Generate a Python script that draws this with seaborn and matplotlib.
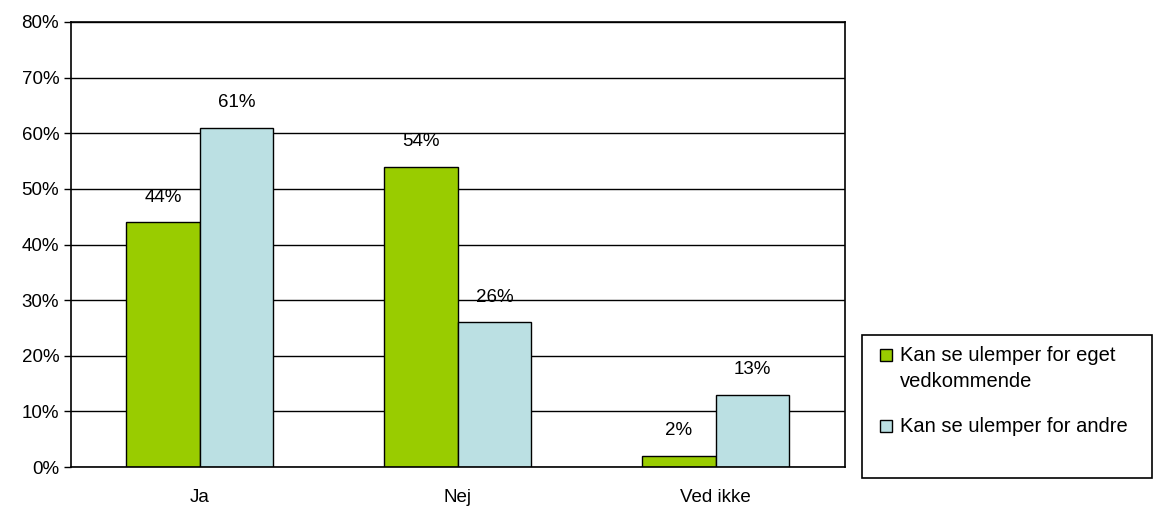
import matplotlib
matplotlib.use("Agg")
import matplotlib.pyplot as plt
import matplotlib.ticker as mticker
from matplotlib.patches import Rectangle
import pandas as pd
import seaborn as sns

# svarkategorier og andele
kategorier = ["Ja", "Nej", "Ved ikke"]
serier = ["Kan se ulemper for eget\nvedkommende", "Kan se ulemper for andre"]
eget = [0.44, 0.54, 0.02]
andre = [0.61, 0.26, 0.13]
farver = ["#99CC00", "#BBE0E3"]

df = pd.DataFrame({
    "svar": kategorier * 2,
    "serie": [serier[0]] * 3 + [serier[1]] * 3,
    "andel": eget + andre,
})

sns.set_style("white")
plt.rcParams["font.family"] = ["Liberation Sans", "DejaVu Sans"]
plt.rcParams["text.color"] = "black"
plt.rcParams["xtick.color"] = "black"
plt.rcParams["ytick.color"] = "black"

fig = plt.figure(figsize=(11.57, 5.08), dpi=100)
ax = fig.add_axes([0.0614, 0.0807, 0.6686, 0.876])

sns.barplot(
    data=df, x="svar", y="andel", hue="serie",
    palette=farver, saturation=1, edgecolor="black", linewidth=1,
    width=0.57, gap=0, ax=ax, legend=False,
)

for c in ax.containers:
    ax.bar_label(c, labels=[f"{v * 100:.0f}%" for v in c.datavalues],
                 padding=12, fontsize=13.5, color="black")

ax.set_xlim(-0.5, 2.5)
ax.set_ylim(0, 0.8)
ax.yaxis.set_major_locator(mticker.MultipleLocator(0.1))
ax.yaxis.set_major_formatter(mticker.FuncFormatter(lambda v, p: f"{v * 100:.0f}%"))
ax.yaxis.grid(True, color="black", lw=1)
ax.set_axisbelow(True)
ax.set_xlabel("")
ax.set_ylabel("")

ax.xaxis.set_minor_locator(mticker.FixedLocator([-0.5, 0.5, 1.5, 2.5]))
ax.tick_params(axis="x", which="major", length=0, pad=16, labelsize=13.5)
ax.tick_params(axis="x", which="minor", length=6, width=1, direction="out", color="black")
ax.tick_params(axis="y", length=5, width=1, direction="out", color="black", labelsize=13.5, left=True)

for s in ax.spines.values():
    s.set_color("black")
    s.set_linewidth(1.2)

# legendeboks (tegnet i hånden, så firkanten flugter med første tekstlinje)
fig.patches.append(Rectangle((0.745, 0.059), 0.2507, 0.2815, transform=fig.transFigure,
                             facecolor="white", edgecolor="black", lw=1.2))
for navn, farve, y in zip(serier, farver, [0.301, 0.161]):
    fig.patches.append(Rectangle((0.7606, y - 0.0118), 0.0104, 0.0236,
                                 transform=fig.transFigure, facecolor=farve,
                                 edgecolor="black", lw=1))
    fig.text(0.7779, y + 0.018, navn, fontsize=14.5, va="top", ha="left",
             linespacing=1.45)

fig.savefig("out.png", dpi=100)
